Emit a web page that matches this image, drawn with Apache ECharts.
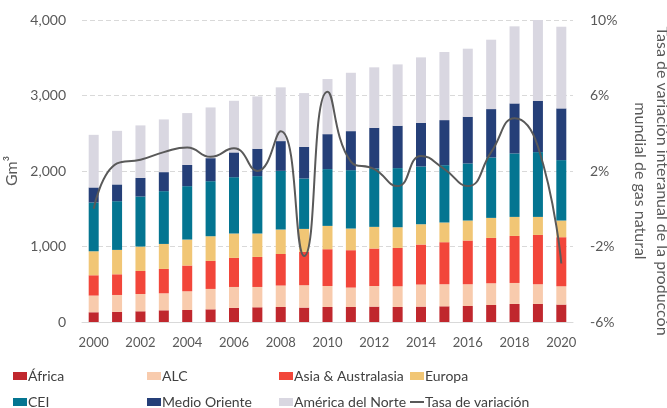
<!DOCTYPE html>
<html>
<head>
<meta charset="utf-8">
<script src="https://cdn.jsdelivr.net/npm/echarts@6/dist/echarts.min.js"></script>
<style>
  html, body { margin: 0; padding: 0; background: #fff; }
  #chart { width: 667px; height: 408px; }
</style>
</head>
<body>
<div id="chart"></div>
<script>
let years = ['2000', '2001', '2002', '2003', '2004', '2005', '2006', '2007', '2008', '2009', '2010',
    '2011', '2012', '2013', '2014', '2015', '2016', '2017', '2018', '2019', '2020'];

// Gm3 por region
let africa = [129, 133, 142, 155, 159, 168, 186, 195, 199, 191, 199, 199, 204, 199, 204, 208, 212, 225, 239, 239, 231];
let alc = [221, 225, 229, 225, 248, 270, 278, 269, 284, 296, 278, 257, 273, 274, 292, 292, 288, 288, 278, 261, 242];
let asia = [269, 274, 305, 323, 341, 371, 385, 398, 418, 441, 487, 495, 496, 508, 530, 557, 579, 601, 623, 653, 650];
let europa = [318, 323, 323, 331, 344, 327, 323, 310, 324, 305, 309, 287, 287, 274, 269, 261, 265, 265, 252, 239, 221];
let cei = [646, 645, 663, 699, 707, 729, 746, 760, 777, 668, 752, 773, 774, 783, 765, 759, 756, 800, 841, 858, 800];
let medioOriente = [199, 222, 247, 252, 282, 305, 328, 362, 394, 419, 463, 517, 538, 561, 578, 597, 618, 641, 662, 680, 685];
let americaNorte = [697, 710, 695, 698, 686, 672, 684, 694, 712, 712, 730, 773, 801, 813, 867, 902, 902, 919, 1021, 1070, 1082];

// tasa de variacion interanual (%)
let tasa = [0.0, 2.4, 2.6, 3.0, 3.25, 2.75, 3.2, 2.0, 4.1, -2.5, 6.2, 2.5, 2.1, 1.2, 2.8, 2.1, 1.2, 3.0, 4.8, 3.3, -2.9];

let barSeries = [
    { name: 'África', data: africa, color: '#C0272D' },
    { name: 'ALC', data: alc, color: '#F8CBAD' },
    { name: 'Asia & Australasia', data: asia, color: '#F2463A' },
    { name: 'Europa', data: europa, color: '#F1C675' },
    { name: 'CEI', data: cei, color: '#047591' },
    { name: 'Medio Oriente', data: medioOriente, color: '#253F78' },
    { name: 'América del Norte', data: americaNorte, color: '#D9D7E1' }
];

let font = 'Lato';
let textColor = '#595959';

let series = barSeries.map(function (s) {
    return {
        name: s.name,
        type: 'bar',
        stack: 'total',
        barWidth: 10,
        data: s.data,
        itemStyle: { color: s.color },
        emphasis: { disabled: true }
    };
});
series.push({
    name: 'Tasa de variación',
    type: 'line',
    yAxisIndex: 1,
    smooth: 0.5,
    showSymbol: false,
    data: tasa,
    lineStyle: { color: '#595959', width: 2 },
    itemStyle: { color: '#595959' },
    z: 10
});

function makeLegend(name, left, top, icon) {
    return {
        data: [{ name: name, icon: icon || 'rect' }],
        left: left,
        top: top,
        itemWidth: 14,
        itemHeight: icon ? 2 : 8,
        itemGap: 0,
        padding: 0,
        selectedMode: false,
        textStyle: { fontFamily: font, fontSize: 14, color: '#404040', padding: [0, 0, 0, -4] }
    };
}

let legends = [
    makeLegend('África', 13, 369),
    makeLegend('ALC', 147, 369),
    makeLegend('Asia & Australasia', 279, 369),
    makeLegend('Europa', 410, 369),
    makeLegend('CEI', 13, 395),
    makeLegend('Medio Oriente', 147, 395),
    makeLegend('América del Norte', 279, 395),
    makeLegend('Tasa de variación', 410, 395, 'rect')
];

let chart = echarts.init(document.getElementById('chart'));
let option = {
    animation: false,
    legend: legends,
    grid: { left: 82, right: 94, top: 20, bottom: 86, outerBoundsMode: 'none' },
    xAxis: {
        type: 'category',
        data: years,
        axisLine: { lineStyle: { color: '#d9d9d9' } },
        axisTick: { interval: 0, length: 5, lineStyle: { color: '#d9d9d9' } },
        axisLabel: { interval: 1, color: textColor, fontFamily: font, fontSize: 13, margin: 14 }
    },
    yAxis: [
        {
            type: 'value',
            min: 0,
            max: 4000,
            interval: 1000,
            name: 'Gm³',
            nameLocation: 'middle',
            nameGap: 45,
            nameTextStyle: { fontFamily: font, fontSize: 16, color: textColor },
            axisLine: { show: false },
            axisTick: { show: false },
            axisLabel: {
                color: textColor, fontFamily: font, fontSize: 14, margin: 16,
                formatter: function (v) { return v.toLocaleString('en-US'); }
            },
            splitLine: { lineStyle: { color: '#d9d9d9', type: [5, 3] } }
        },
        {
            type: 'value',
            min: -6,
            max: 10,
            interval: 4,
            name: 'Tasa de variación interanual de la produccón\nmundial de gas natural',
            nameLocation: 'middle',
            nameRotate: -90,
            nameGap: 56,
            nameTextStyle: { fontFamily: font, fontSize: 16, color: textColor, lineHeight: 22, padding: [0, 0, 0, 20] },
            axisLine: { show: false },
            axisTick: { show: false },
            axisLabel: { color: textColor, fontFamily: font, fontSize: 14, margin: 17, formatter: '{value}%' },
            splitLine: { show: false }
        }
    ],
    series: series
};
chart.setOption(option);
</script>
</body>
</html>
